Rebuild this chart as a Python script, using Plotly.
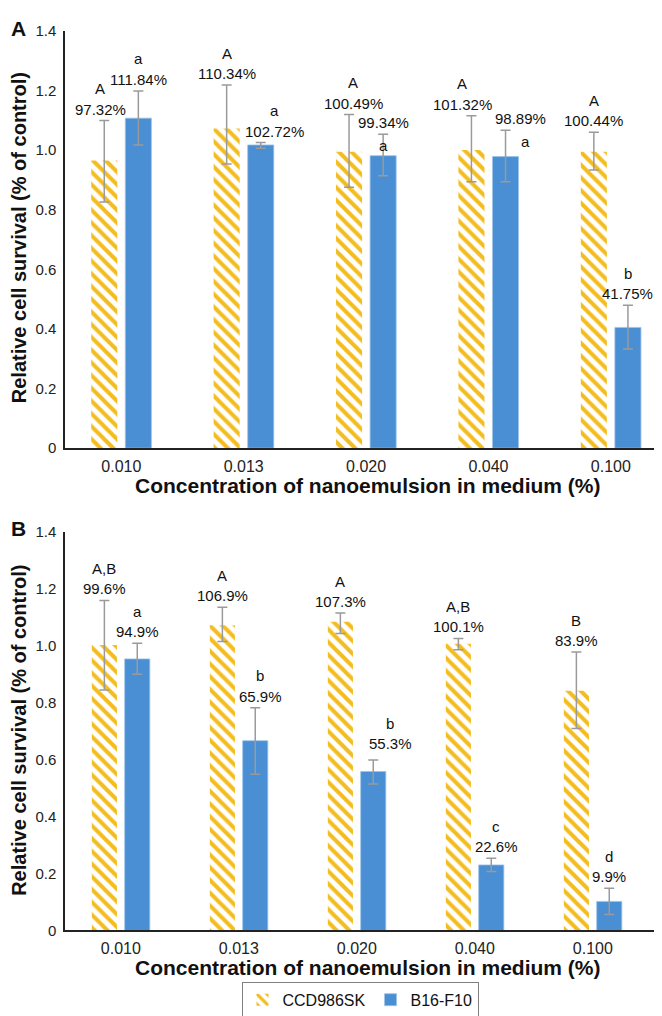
import plotly.graph_objects as go

# ---------------- data ----------------
categories = ["0.010", "0.013", "0.020", "0.040", "0.100"]

# Panel A
A_ccd = [0.965, 1.072, 0.994, 1.000, 0.994]
A_ccd_err_up = [0.134, 0.146, 0.125, 0.115, 0.066]
A_ccd_err_dn = [0.139, 0.119, 0.119, 0.106, 0.061]
A_b16 = [1.107, 1.017, 0.981, 0.978, 0.405]
A_b16_err_up = [0.091, 0.008, 0.072, 0.088, 0.074]
A_b16_err_dn = [0.090, 0.011, 0.067, 0.084, 0.072]
A_ccd_pct = ["97.32%", "110.34%", "100.49%", "101.32%", "100.44%"]
A_ccd_grp = ["A", "A", "A", "A", "A"]
A_b16_pct = ["111.84%", "102.72%", "99.34%", "98.89%", "41.75%"]
A_b16_grp = ["a", "a", "a", "a", "b"]

# Panel B
B_ccd = [1.002, 1.071, 1.083, 1.006, 0.841]
B_ccd_err_up = [0.156, 0.063, 0.031, 0.019, 0.136]
B_ccd_err_dn = [0.158, 0.057, 0.041, 0.021, 0.132]
B_b16 = [0.953, 0.666, 0.558, 0.230, 0.102]
B_b16_err_up = [0.055, 0.116, 0.040, 0.023, 0.046]
B_b16_err_dn = [0.054, 0.118, 0.044, 0.023, 0.046]
B_ccd_pct = ["99.6%", "106.9%", "107.3%", "100.1%", "83.9%"]
B_ccd_grp = ["A,B", "A", "A", "A,B", "B"]
B_b16_pct = ["94.9%", "65.9%", "55.3%", "22.6%", "9.9%"]
B_b16_grp = ["a", "b", "b", "c", "d"]

y_tickvals = [0, 0.2, 0.4, 0.6, 0.8, 1.0, 1.2, 1.4]
y_ticktext = ["0", "0.2", "0.4", "0.6", "0.8", "1.0", "1.2", "1.4"]

series_names = ["CCD986SK", "B16-F10"]

# ---------------- style ----------------
FONT = "Liberation Sans, Arial, sans-serif"
GOLD = "#F4BD1F"
BLUE = "#4A8ED3"
ERR = "#9a9a9a"
AX = "#222222"
W, H = 662, 1016
BARGAP = 0.443
BARGROUPGAP = 0.235
OFF = (1 - BARGAP) / 4  # centre offset of each bar within its category
LABEL_SIZE = 15

# label nudges (pixels): (panel, series, index) -> dict
nudges = {
    ("A", 0, 0): dict(dx=-4),
    ("A", 1, 1): dict(dx=14),
    ("A", 0, 2): dict(dx=4),
    ("A", 1, 2): dict(below=True),
    ("A", 0, 3): dict(dx=-9),
    ("A", 1, 3): dict(dx=15, ldx=20, below=True),
    ("A", 1, 4): dict(dx=0),
    ("B", 1, 1): dict(dx=5),
    ("B", 1, 2): dict(dx=17, dy=5),
    ("B", 1, 3): dict(dx=5),
}

idx = list(range(len(categories)))

fig = go.Figure()

panels = [
    ("A", "x", "y", A_ccd, A_ccd_err_up, A_ccd_err_dn, A_b16, A_b16_err_up, A_b16_err_dn,
     A_ccd_pct, A_ccd_grp, A_b16_pct, A_b16_grp, True),
    ("B", "x2", "y2", B_ccd, B_ccd_err_up, B_ccd_err_dn, B_b16, B_b16_err_up, B_b16_err_dn,
     B_ccd_pct, B_ccd_grp, B_b16_pct, B_b16_grp, False),
]

annotations = []
for (pn, xa, ya, ccd, cu, cd, b16, bu, bd, cpct, cgrp, bpct, bgrp, showleg) in panels:
    fig.add_trace(go.Bar(
        x=idx, y=ccd, name=series_names[0], xaxis=xa, yaxis=ya,
        marker=dict(color="white", line=dict(width=0),
                    pattern=dict(shape="\\", fgcolor=GOLD, bgcolor="white",
                                 size=9, solidity=0.45, fillmode="replace")),
        error_y=dict(type="data", symmetric=False, array=cu, arrayminus=cd,
                     color=ERR, thickness=1.5, width=5),
        showlegend=showleg, legendgroup="ccd", hoverinfo="skip",
    ))
    fig.add_trace(go.Bar(
        x=idx, y=b16, name=series_names[1], xaxis=xa, yaxis=ya,
        marker=dict(color=BLUE, line=dict(color="#9cc3ea", width=0.8)),
        error_y=dict(type="data", symmetric=False, array=bu, arrayminus=bd,
                     color=ERR, thickness=1.5, width=5),
        showlegend=showleg, legendgroup="b16", hoverinfo="skip",
    ))
    for s, (vals, ups, pcts, grps) in enumerate([(ccd, cu, cpct, cgrp), (b16, bu, bpct, bgrp)]):
        sign = -1 if s == 0 else 1
        for i in idx:
            nd = nudges.get((pn, s, i), {})
            dx = nd.get("dx", 0)
            ldx = nd.get("ldx", dx)
            dy = nd.get("dy", 0)
            top = vals[i] + ups[i]
            xpos = i + sign * OFF
            annotations.append(dict(
                x=xpos, y=top, xref=xa, yref=ya, text=pcts[i], showarrow=False,
                xanchor="center", yanchor="middle", xshift=dx, yshift=11.5 + dy,
                font=dict(family=FONT, size=LABEL_SIZE, color="#111")))
            lshift = -11 if nd.get("below") else 32 + dy
            annotations.append(dict(
                x=xpos, y=top, xref=xa, yref=ya, text=grps[i], showarrow=False,
                xanchor="center", yanchor="middle", xshift=ldx, yshift=lshift,
                font=dict(family=FONT, size=LABEL_SIZE, color="#111")))

# titles and panel letters
def py(p):
    return 1 - p / H

def px(p):
    return p / W

ytitle = "Relative cell survival (% of control)"
xtitle = "Concentration of nanoemulsion in medium (%)"
for letter, ly, xt_y, yt_y in [("A", 12, 476.7, 225), ("B", 520.7, 966.7, 726)]:
    annotations.append(dict(x=px(10.5), y=py(ly), xref="paper", yref="paper", text="<b>%s</b>" % letter,
                            showarrow=False, xanchor="center", yanchor="middle",
                            font=dict(family=FONT, size=21, color="#111")))
    annotations.append(dict(x=px(359.5), y=py(xt_y), xref="paper", yref="paper", text="<b>%s</b>" % xtitle,
                            showarrow=False, xanchor="center", yanchor="middle",
                            font=dict(family=FONT, size=21, color="#111")))
    annotations.append(dict(x=px(11), y=py(yt_y), xref="paper", yref="paper", text="<b>%s</b>" % ytitle,
                            showarrow=False, xanchor="center", yanchor="middle", textangle=-90,
                            font=dict(family=FONT, size=20, color="#111")))

xdom = [px(57), 1.0]
common_x = dict(tickvals=idx, ticktext=categories, showline=True, linecolor=AX, linewidth=1.5,
                showgrid=False, zeroline=False, ticks="outside", ticklen=3, tickcolor="rgba(0,0,0,0)",
                tickfont=dict(family=FONT, size=16, color="#222"), fixedrange=True)
common_y = dict(tickvals=y_tickvals, ticktext=y_ticktext, range=[0, 1.4], showline=True, linecolor=AX,
                linewidth=1.5, showgrid=False, zeroline=False, ticks="outside", ticklen=4,
                tickcolor="rgba(0,0,0,0)", tickfont=dict(family=FONT, size=15, color="#222"), fixedrange=True)

fig.update_layout(
    width=W, height=H,
    margin=dict(l=0, r=0, t=0, b=0),
    paper_bgcolor="white", plot_bgcolor="white",
    barmode="group", bargap=BARGAP, bargroupgap=BARGROUPGAP,
    xaxis=dict(domain=xdom, range=[-0.46, 4.483], anchor="y", **common_x),
    yaxis=dict(domain=[py(438.5), py(14)], anchor="x", **common_y),
    xaxis2=dict(domain=xdom, range=[-0.473, 4.654], anchor="y2", **common_x),
    yaxis2=dict(domain=[py(929), py(523.3)], anchor="x2", **common_y),
    annotations=annotations,
    legend=dict(orientation="h", x=px(352), y=py(999.5), xanchor="center", yanchor="middle",
                bordercolor="#7f7f7f", borderwidth=1, bgcolor="white",
                font=dict(family=FONT, size=16, color="#111"), itemwidth=30,
                traceorder="normal"),
    showlegend=True,
)

fig.write_html("out.html")
